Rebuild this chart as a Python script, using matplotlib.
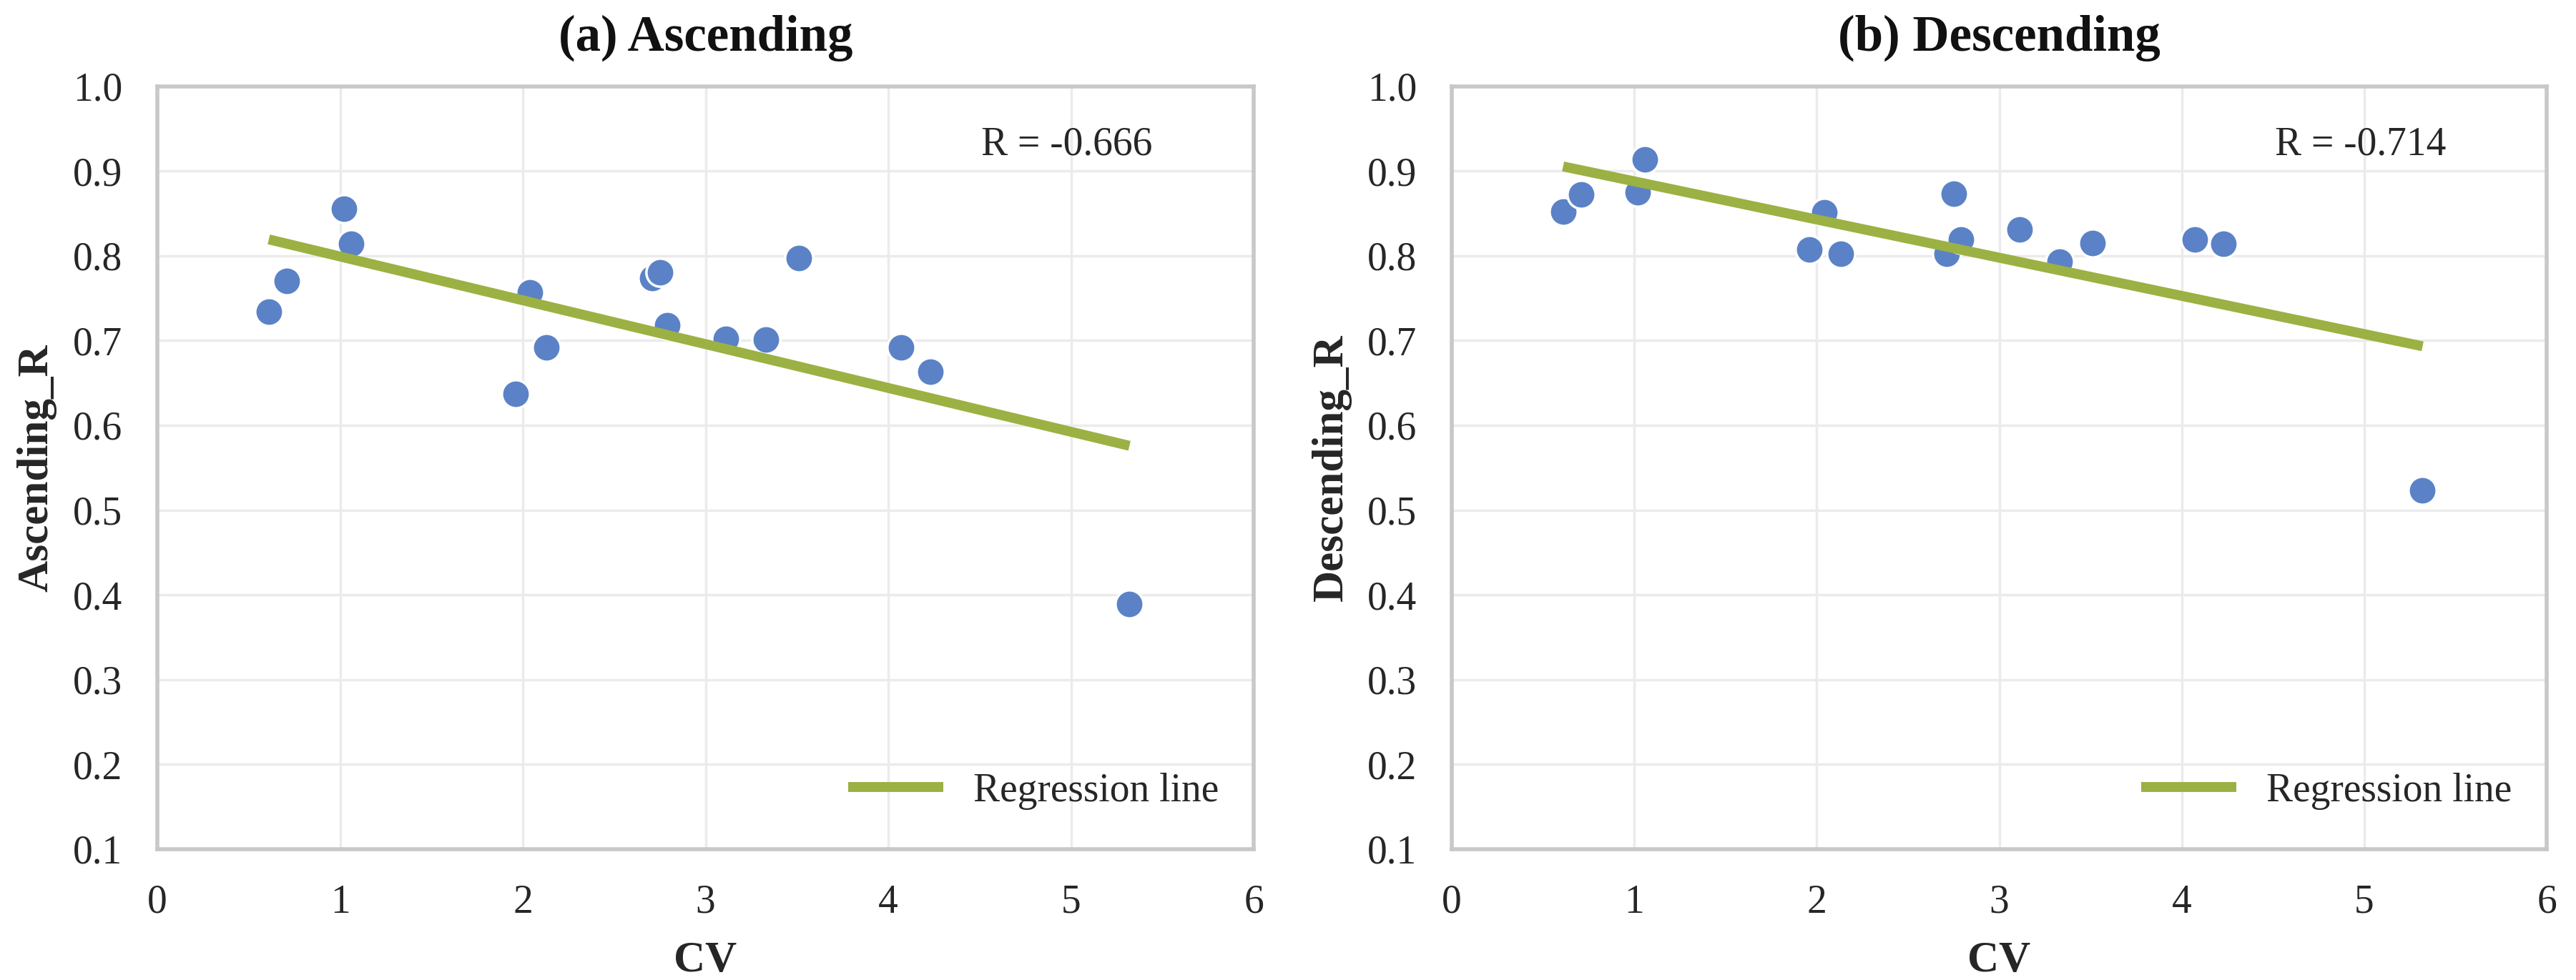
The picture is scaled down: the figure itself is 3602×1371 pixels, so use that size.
import numpy as np
import matplotlib
matplotlib.use("Agg")
import matplotlib.pyplot as plt

# ---- data ----
cv = [0.61, 0.71, 1.02, 1.06, 1.96, 2.04, 2.13, 2.71, 2.75, 2.79, 3.11, 3.33, 3.51, 4.07, 4.23, 5.32]
ascending_r = [0.734, 0.770, 0.855, 0.814, 0.637, 0.757, 0.692, 0.774, 0.780, 0.718, 0.702, 0.701, 0.797, 0.692, 0.663, 0.389]
descending_r = [0.852, 0.872, 0.875, 0.914, 0.807, 0.851, 0.802, 0.802, 0.873, 0.819, 0.831, 0.793, 0.815, 0.819, 0.814, 0.523]
titles = ["(a) Ascending", "(b) Descending"]
ylabels = ["Ascending_R", "Descending_R"]
r_values = ["-0.666", "-0.714"]
xticks = [0, 1, 2, 3, 4, 5, 6]
yticks = [0.1, 0.2, 0.3, 0.4, 0.5, 0.6, 0.7, 0.8, 0.9, 1.0]

plt.rcParams['font.family'] = ['Liberation Serif', 'DejaVu Serif']

W, H = 3602, 1371
fig = plt.figure(figsize=(W / 100, H / 100), dpi=100)

axes_px = [(220, 1753), (2030, 3561)]
top_px, bot_px = 120.5, 1188

spine_c = '#C8C8C8'
grid_c = '#EBEBEB'
pt_c = '#5B82C6'
line_c = '#9BB143'
txt_c = '#262626'

for i, (x0, x1) in enumerate(axes_px):
    ax = fig.add_axes([x0 / W, 1 - bot_px / H, (x1 - x0) / W, (bot_px - top_px) / H])
    yvals = [ascending_r, descending_r][i]
    x = np.array(cv)
    y = np.array(yvals)
    ax.set_xlim(0, 6)
    ax.set_ylim(0.1, 1.0)
    ax.set_xticks(xticks)
    ax.set_yticks(yticks)
    ax.set_yticklabels([f"{v:.1f}" for v in yticks])
    ax.grid(True, color=grid_c, linewidth=2.5, zorder=0)
    ax.set_axisbelow(True)
    for s in ax.spines.values():
        s.set_color(spine_c)
        s.set_linewidth(4)
    ax.tick_params(length=0, labelsize=40, pad=35, colors=txt_c)

    ax.scatter(x, y, s=800, color=pt_c, edgecolors='white', linewidths=2.5, zorder=3)
    k, b = np.polyfit(x, y, 1)
    xs = np.array([x.min(), x.max()])
    ax.plot(xs, k * xs + b, color=line_c, linewidth=10, solid_capstyle='butt',
            zorder=4, label='Regression line')

    ax.text(4.51, 0.919, f"R = {r_values[i]}", fontsize=40, color=txt_c, ha='left', va='baseline')
    ax.set_title(titles[i], fontsize=51, fontweight='bold', pad=36, color='#111111')
    ax.set_xlabel('CV', fontsize=44, fontweight='bold', labelpad=20, color=txt_c)
    ax.set_ylabel(ylabels[i], fontsize=44, fontweight='bold', labelpad=16, color=txt_c)

    leg = ax.legend(loc='center right', bbox_to_anchor=(0.968, 0.076), frameon=False,
                    fontsize=40, handlelength=2.4, handletextpad=0.75, borderpad=0,
                    borderaxespad=0)
    for t in leg.get_texts():
        t.set_color(txt_c)

fig.savefig('out.png', dpi=100, facecolor='white')
